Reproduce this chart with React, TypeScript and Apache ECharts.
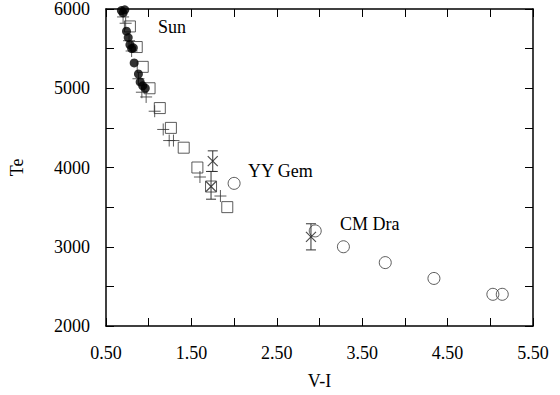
import React, { useEffect, useRef } from 'react';
import * as echarts from 'echarts';

// Filled circles (Sun-like stars)
const filledCircles: [number, number][] = [
  [0.68, 5980], [0.70, 5950], [0.72, 5990], [0.74, 5720], [0.76, 5640],
  [0.78, 5550], [0.80, 5500], [0.82, 5510], [0.83, 5320], [0.88, 5180],
  [0.90, 5080], [0.93, 5030], [0.96, 5000],
];
// Open squares
const openSquares: [number, number][] = [
  [0.69, 6010], [0.78, 5780], [0.86, 5520], [0.93, 5270], [1.01, 5000],
  [1.13, 4750], [1.26, 4500], [1.41, 4250], [1.57, 4000], [1.73, 3760], [1.92, 3500],
];
// Plus signs
const plusPoints: [number, number][] = [
  [0.70, 5900], [0.73, 5820], [0.77, 5600], [0.80, 5470], [0.88, 5120],
  [0.92, 4950], [0.97, 4890], [1.07, 4710], [1.17, 4480], [1.24, 4340],
  [1.29, 4340], [1.60, 3880], [1.84, 3640],
];
// Crosses with error bars
const crossX = [1.75, 1.73, 2.90];
const crossT = [4080, 3760, 3125];
const crossLow = [3950, 3600, 2960];
const crossHigh = [4210, 3950, 3290];
// Open circles
const openCircles: [number, number][] = [
  [2.00, 3800], [2.95, 3200], [3.28, 3000], [3.77, 2800], [4.34, 2600], [5.03, 2400], [5.14, 2400],
];
// Tick labels
const xTickLabels = ['0.50', '1.50', '2.50', '3.50', '4.50', '5.50'];
const yTickLabels = ['2000', '3000', '4000', '5000', '6000'];
const annotationTexts = ['Sun', 'YY Gem', 'CM Dra'];

const FONT = '"Liberation Serif", "Times New Roman", serif';

export default function App() {
  const ref = useRef<HTMLDivElement>(null);
  useEffect(() => {
    if (!ref.current) return;
    const chart = echarts.init(ref.current, undefined, { renderer: 'svg' });
    const axisLine = { show: true, lineStyle: { color: '#000', width: 1.5 } };
    const axisTick = { show: true, inside: true, length: 8, lineStyle: { color: '#000', width: 1 } };
    const crossData = crossX.map((x, i) => [x, crossT[i]]);
    const errData = crossX.map((x, i) => [x, crossLow[i], crossHigh[i]]);
    const annPos = [
      { x: 158, y: 27 },
      { x: 248, y: 171 },
      { x: 340, y: 224 },
    ];
    chart.setOption({
      animation: false,
      backgroundColor: '#fff',
      grid: { left: 103, right: 27, top: 6, bottom: 66 },
      xAxis: [
        {
          type: 'value', min: 0.5, max: 5.5, interval: 0.5, position: 'bottom',
          name: 'V-I', nameLocation: 'middle', nameGap: 46,
          nameTextStyle: { fontFamily: FONT, fontSize: 18, color: '#000' },
          axisLine, axisTick, splitLine: { show: false },
          axisLabel: {
            margin: 18, fontFamily: FONT, fontSize: 18, color: '#000',
            formatter: (v: number) => { const s = v.toFixed(2); return xTickLabels.includes(s) ? s : ''; },
          },
        },
        {
          type: 'value', min: 0.5, max: 5.5, interval: 0.5, position: 'top',
          axisLine, axisTick, splitLine: { show: false }, axisLabel: { show: false },
        },
      ],
      yAxis: [
        {
          type: 'value', min: 2000, max: 6000, interval: 500, position: 'left',
          name: 'Te', nameLocation: 'middle', nameGap: 80,
          nameTextStyle: { fontFamily: FONT, fontSize: 18, color: '#000' },
          axisLine, axisTick, splitLine: { show: false },
          axisLabel: {
            margin: 16, fontFamily: FONT, fontSize: 18, color: '#000',
            formatter: (v: number) => { const s = String(Math.round(v)); return yTickLabels.includes(s) ? s : ''; },
          },
        },
        {
          type: 'value', min: 2000, max: 6000, interval: 500, position: 'right',
          axisLine, axisTick, splitLine: { show: false }, axisLabel: { show: false },
        },
      ],
      series: [
        {
          type: 'custom',
          renderItem: (params: any, api: any) => {
            const x = api.value(0);
            const p1 = api.coord([x, api.value(1)]);
            const p2 = api.coord([x, api.value(2)]);
            const hw = 5;
            const style = { stroke: '#333', lineWidth: 1 };
            return {
              type: 'group',
              children: [
                { type: 'line', shape: { x1: p1[0], y1: p1[1], x2: p2[0], y2: p2[1] }, style },
                { type: 'line', shape: { x1: p1[0] - hw, y1: p1[1], x2: p1[0] + hw, y2: p1[1] }, style },
                { type: 'line', shape: { x1: p2[0] - hw, y1: p2[1], x2: p2[0] + hw, y2: p2[1] }, style },
              ],
            };
          },
          data: errData,
          z: 1,
        },
        {
          type: 'scatter', data: openSquares, symbol: 'rect', symbolSize: 11,
          itemStyle: { color: 'transparent', borderColor: '#333', borderWidth: 1 }, z: 2,
        },
        {
          type: 'scatter', data: plusPoints, symbol: 'path://M5,0L5,10M0,5L10,5', symbolSize: 12,
          itemStyle: { color: 'transparent', borderColor: '#333', borderWidth: 1 }, z: 3,
        },
        {
          type: 'scatter', data: filledCircles, symbol: 'circle', symbolSize: 9,
          itemStyle: { color: '#000' }, z: 4,
        },
        {
          type: 'scatter', data: crossData, symbol: 'path://M0,0L10,10M10,0L0,10', symbolSize: 10,
          itemStyle: { color: 'transparent', borderColor: '#222', borderWidth: 1.2 }, z: 5,
        },
        {
          type: 'scatter', data: openCircles, symbol: 'circle', symbolSize: 12,
          itemStyle: { color: 'transparent', borderColor: '#333', borderWidth: 1 }, z: 5,
        },
      ],
      graphic: annotationTexts.map((t, i) => ({
        type: 'text', x: annPos[i].x, y: annPos[i].y,
        style: { text: t, fontFamily: FONT, fontSize: 18, fill: '#000', align: 'left', verticalAlign: 'middle' },
      })),
    });
    return () => chart.dispose();
  }, []);
  return <div ref={ref} style={{ position: 'fixed', left: 0, top: 0, width: 560, height: 395, background: '#fff' }} />;
}
